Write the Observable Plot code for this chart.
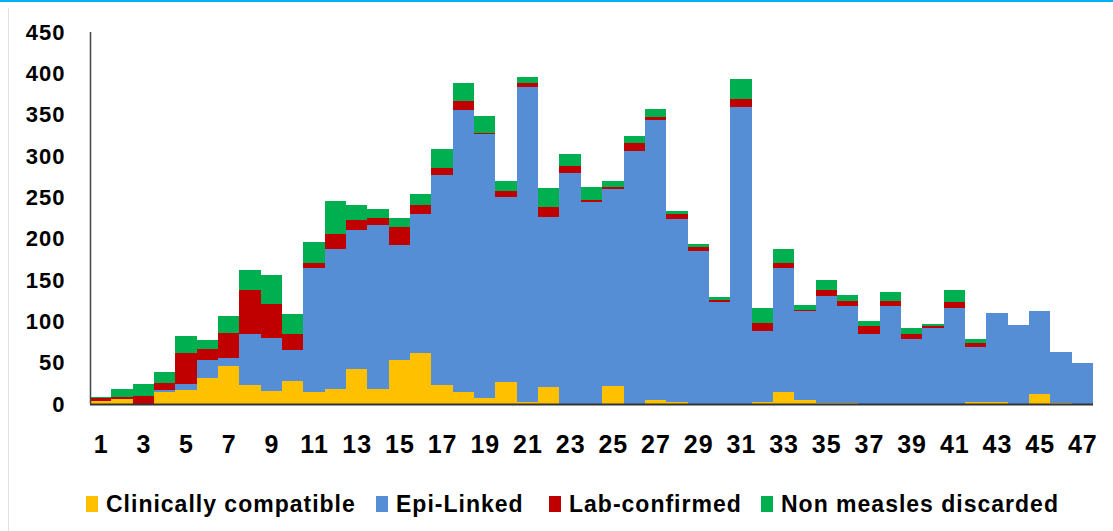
<!DOCTYPE html>
<html>
<head>
<meta charset="utf-8">
<script src="https://cdn.jsdelivr.net/npm/d3@7"></script>
<script src="https://cdn.jsdelivr.net/npm/@observablehq/plot@0.6"></script>
<style>
  html, body { margin: 0; padding: 0; background: #fff; }
  #wrap { position: relative; width: 1113px; height: 531px; overflow: hidden;
          font-family: "Liberation Sans", Arial, sans-serif; font-weight: bold; }
  #topline { position: absolute; left: 0; top: 0; width: 1113px; height: 2px; background: #00b0f0; }
  #leftline { position: absolute; left: 8px; top: 8px; width: 1px; height: 523px; background: #e2e2e2; }
  #chart { position: absolute; left: 0; top: 0; }
  #legend { position: absolute; left: 0; top: 492px; width: 1113px; height: 24px; }
  .item { position: absolute; top: 0; display: flex; align-items: center; height: 24px;
          font-size: 23px; letter-spacing: 1px; color: #000; white-space: nowrap; }
  .sw { display: inline-block; width: 12px; height: 16px; margin-right: 8px; }
</style>
</head>
<body>
<div id="wrap">
  <div id="topline"></div>
  <div id="leftline"></div>
  <div id="chart"></div>
  <div id="legend"></div>
</div>
<script>
const weeks = [1,2,3,4,5,6,7,8,9,10,11,12,13,14,15,16,17,18,19,20,21,22,23,24,25,26,27,28,29,30,31,32,33,34,35,36,37,38,39,40,41,42,43,44,45,46,47];
const seriesNames = ["Clinically compatible", "Epi-Linked", "Lab-confirmed", "Non measles discarded"];
const seriesColors = ["#FFC000", "#568ED5", "#C00000", "#00B050"];
const clinical = [4,6,0,15,17,32,46,23,16,28,15,18,42,18,53,62,23,14,7,27,2,20,0,0,22,0,5,3,0,0,0,2,14,5,1,1,0,0,0,0,0,2,2,0,12,1,0];
const epiLinked = [0,0,0,2,7,21,10,62,64,37,150,169,169,199,139,168,254,342,320,223,381,206,280,244,238,306,338,221,185,123,359,86,151,107,130,117,85,118,79,92,116,67,108,95,100,62,50];
const labConfirmed = [3,3,10,8,38,14,30,53,41,20,6,19,11,8,22,11,9,10,1,8,5,12,8,3,2,10,4,6,5,3,10,10,6,2,7,7,9,6,6,2,7,5,0,0,0,0,0];
const discarded = [2,9,14,14,20,10,20,24,35,24,25,39,19,11,11,13,22,22,20,12,8,23,15,15,8,8,10,3,4,4,24,18,17,6,12,7,7,11,7,3,15,5,0,0,0,0,0];
const yTicks = [0,50,100,150,200,250,300,350,400,450];

const seriesValues = [clinical, epiLinked, labConfirmed, discarded];
const table = [];
seriesNames.forEach((name, s) => {
  weeks.forEach((w, i) => table.push({week: w, series: name, value: seriesValues[s][i]}));
});

const W = 1113, H = 470, mL = 90, mR = 20, mT = 32, mB = 66;
const bw = (W - mL - mR) / weeks.length;

const chart = Plot.plot({
  width: W,
  height: H,
  marginLeft: mL,
  marginRight: mR,
  marginTop: mT,
  marginBottom: mB,
  style: {fontFamily: "'Liberation Sans', Arial, sans-serif", fontWeight: "bold", background: "transparent", overflow: "visible"},
  x: {type: "band", domain: weeks, padding: 0, round: false, label: null},
  y: {domain: [0, 450], label: null},
  color: {domain: seriesNames, range: seriesColors},
  marks: [
    Plot.barY(table, {x: "week", y: "value", fill: "series", order: seriesNames, shapeRendering: "crispEdges"}),
    Plot.ruleY([0], {stroke: "#333", strokeWidth: 2}),
    Plot.ruleX([weeks[0]], {y1: 0, y2: 450, dx: -bw / 2, stroke: "#444", strokeWidth: 1.5}),
    Plot.axisY({ticks: yTicks, tickSize: 0, tickPadding: 25, fontSize: 22, label: null}),
    Plot.axisX({tickSize: 0, tickPadding: 31, fontSize: 25, label: null,
                tickFormat: d => (d % 2 === 1 ? String(d) : "")})
  ]
});
chart.querySelectorAll("text").forEach(t => { t.style.letterSpacing = "1px"; t.style.fill = "#000"; });
document.getElementById("chart").appendChild(chart);

const legendPos = [[86, 0], [376, 1], [549, 2], [761, 3]];
const legend = document.getElementById("legend");
legendPos.forEach(([left, s]) => {
  const item = document.createElement("div");
  item.className = "item";
  item.style.left = left + "px";
  const sw = document.createElement("span");
  sw.className = "sw";
  sw.style.background = seriesColors[s];
  item.appendChild(sw);
  item.appendChild(document.createTextNode(seriesNames[s]));
  legend.appendChild(item);
});
</script>
</body>
</html>
